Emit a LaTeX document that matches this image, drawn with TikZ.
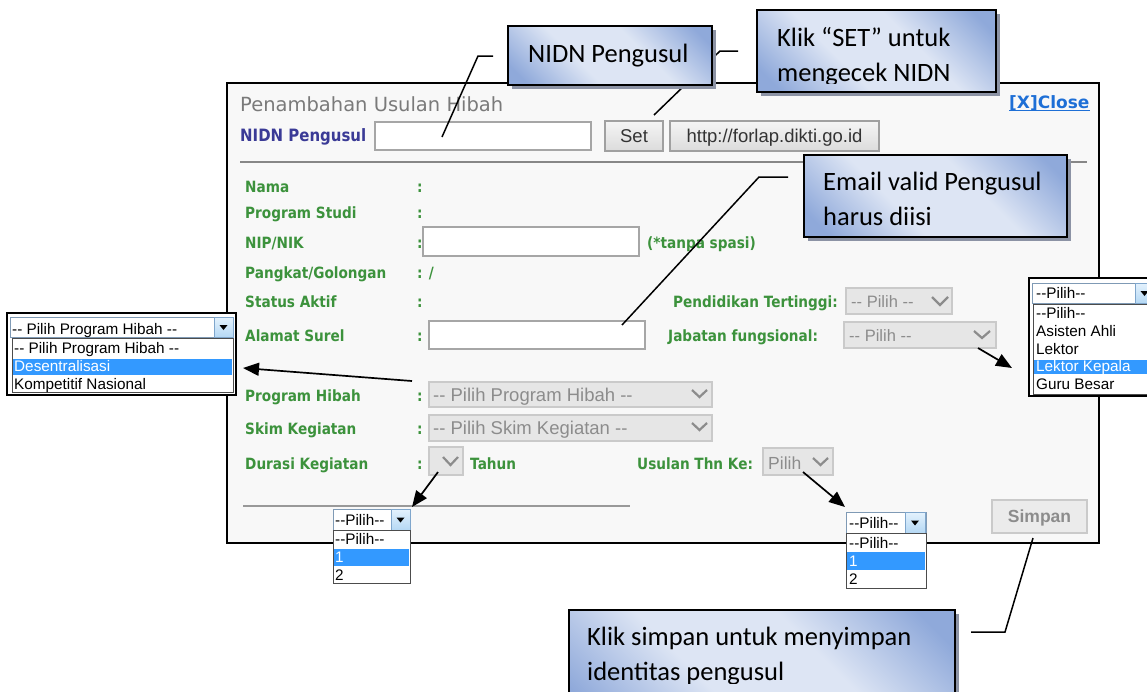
\documentclass[tikz,border=0pt]{standalone}
\usepackage{fontspec}
\setmainfont{DejaVu Sans}
\newfontfamily\lblf[FakeStretch=0.88]{DejaVu Sans}
\newfontfamily\arialf{Liberation Sans}
\newfontfamily\callf{Carlito}
\usetikzlibrary{arrows.meta,calc}
\definecolor{panelbg}{HTML}{F8F8F8}
\definecolor{lblgreen}{HTML}{3C923C}
\definecolor{lblblue}{HTML}{3A3A96}
\definecolor{titlegray}{HTML}{7A7A7A}
\definecolor{linkblue}{HTML}{1E6FD6}
\definecolor{inborder}{HTML}{A6A6A6}
\definecolor{selfill}{HTML}{E6E6E6}
\definecolor{selborder}{HTML}{CACACA}
\definecolor{seltext}{HTML}{8C8C8C}
\definecolor{calldark}{HTML}{8FA9DA}
\definecolor{calllight}{HTML}{DDE5F4}
\definecolor{shadowc}{HTML}{8C93A5}
\definecolor{hilite}{HTML}{3399FF}
\definecolor{btnborder}{HTML}{A0A0A0}
\definecolor{arrtop}{HTML}{E4F2FD}
\definecolor{arrbot}{HTML}{B5D8F4}
\definecolor{arrborder}{HTML}{7FA6CC}
\pgfdeclarehorizontalshading{callshade}{100bp}{color(0bp)=(calldark); color(20bp)=(calldark); color(40bp)=(calllight); color(60bp)=(calllight); color(80bp)=(calldark); color(100bp)=(calldark)}
\newcommand\dd{-\kern0pt-}
\newcommand\rbox[6]{\node[#2, anchor=north west, minimum width={#5-#3}, minimum height={#6-#4}, inner sep=0pt, outer sep=0pt] (#1) at (#3,#4) {};}
\begin{document}
\begin{tikzpicture}[x=1pt,y=-1pt,
  panelst/.style={draw=black, line width=2pt, fill=panelbg},
  inbox/.style={draw=inborder, line width=1.3pt, fill=white},
  btnst/.style={draw=btnborder, line width=1.3pt, top color=white!96!black, bottom color=white!86!black},
  selst/.style={draw=selborder, line width=1.3pt, fill=selfill},
  simpanst/.style={draw=selborder, line width=1.5pt, fill=white!92!black},
  chev/.style={draw=seltext, line width=2.2pt},
  lbl/.style={font=\lblf\bfseries\fontsize{15.5}{18}\selectfont, text=lblgreen, inner sep=0pt, anchor=base west},
  seltxt/.style={font=\arialf\fontsize{18.5}{21}\selectfont, text=seltext, inner sep=0pt, anchor=base west},
  btntxt/.style={font=\arialf\fontsize{18.5}{21}\selectfont, text=black!80, inner sep=0pt, anchor=base},
  popframe/.style={draw=black, line width=2pt, fill=white},
  popsel/.style={draw=arrborder!70!gray, line width=0.8pt, fill=white},
  poplist/.style={draw=black!70, line width=1pt, fill=white},
  arrbtn/.style={draw=arrborder, line width=0.8pt, top color=arrtop, bottom color=arrbot},
  hl/.style={fill=hilite, draw=none},
  poptxt/.style={font=\arialf\fontsize{15.3}{17}\selectfont, text=black, inner sep=0pt, anchor=base west},
  callout/.style={draw=black, line width=1.8pt, shading=callshade, shading angle=45},
  callsh/.style={fill=shadowc, draw=none},
  calltxt/.style={font=\callf\fontsize{26.5}{35}\selectfont, text=black, inner sep=0pt, anchor=base west, align=left},
  conn/.style={draw=black, line width=1.5pt},
  arr/.style={draw=black, line width=1.7pt, -{Triangle[length=16pt,width=13pt]}}]
\useasboundingbox (0,0) rectangle (1147,691);
\fill[white] (0,0) rectangle (1147,691);

% main panel
\rbox{panel}{panelst}{227}{83}{1099}{543}
\node[font=\fontsize{19.5}{22}\selectfont, text=titlegray, inner sep=0pt, anchor=base west] (title) at (240,111) {Penambahan Usulan Hibah};
\node[font=\fontsize{17}{20}\selectfont\bfseries, text=linkblue, inner sep=0pt, anchor=base west] (close) at (1009,108) {[X]Close};
\draw[linkblue, line width=1.3pt] ($(close.base west)+(0,2.5)$) -- ($(close.base east)+(0,2.5)$);
\node[font=\lblf\bfseries\fontsize{17}{20}\selectfont, text=lblblue, inner sep=0pt, anchor=base west] (nidnlbl) at (240,141.7) {NIDN Pengusul};
\rbox{nidnin}{inbox}{375}{122}{591}{150}
\rbox{setbtn}{btnst}{605}{121}{663}{151}
\node[btntxt] (settxt) at (634,142) {Set};
\rbox{httpbtn}{btnst}{670}{121}{879}{151}
\node[btntxt] (httptxt) at (774.5,142) {http://forlap.dikti.go.id};
\draw[draw=black!47, line width=2pt] (240,162) -- (1087,162);

% labels
\node[lbl] (lNama) at (245,192) {Nama};
\node[lbl] (lProdi) at (245,218) {Program Studi};
\node[lbl] (lNip) at (245,248) {NIP/NIK};
\node[lbl] (lPangkat) at (245,278.3) {Pangkat/Golongan};
\node[lbl] (lStatus) at (245,307.7) {Status Aktif};
\node[lbl] (lSurel) at (245,341.7) {Alamat Surel};
\node[lbl] (lHibah) at (245,401.7) {Program Hibah};
\node[lbl] (lSkim) at (245,434.3) {Skim Kegiatan};
\node[lbl] (lDurasi) at (245,469) {Durasi Kegiatan};
\node[lbl] (c1) at (417,192) {:};
\node[lbl] (c2) at (417,218) {:};
\node[lbl] (c3) at (417,248) {:};
\node[lbl] (c4) at (417,278.3) {: /};
\node[lbl] (c5) at (417,307.7) {:};
\node[lbl] (c6) at (417,341.7) {:};
\node[lbl] (c7) at (417,401.7) {:};
\node[lbl] (c8) at (417,434.3) {:};
\node[lbl] (c9) at (417,469) {:};

\rbox{nipin}{inbox}{423}{227}{639}{256}
\node[lbl] (tanpa) at (647,248) {(*tanpa spasi)};
\rbox{surelin}{inbox}{429}{321}{645}{349}

\node[lbl] (lPend) at (673,307.3) {Pendidikan Tertinggi:};
\rbox{pendsel}{selst}{846}{288}{952}{314}
\node[seltxt, font=\arialf\fontsize{16.5}{19}\selectfont] (pendtxt) at (851,307.3) {\dd{} Pilih \dd};
\draw[chev] (932,297) -- (940,305) -- (948,297);
\node[lbl] (lJab) at (668,341.7) {Jabatan fungsional:};
\rbox{jabsel}{selst}{844}{322}{996}{348}
\node[seltxt, font=\arialf\fontsize{16.5}{19}\selectfont] (jabtxt) at (849,341.7) {\dd{} Pilih \dd};
\draw[chev] (974,331) -- (982,338) -- (990,331);

\rbox{hibsel}{selst}{429}{382}{712}{407}
\node[seltxt] (hibtxt) at (433,401.7) {\dd{} Pilih Program Hibah \dd};
\draw[chev] (692,390) -- (699.5,397) -- (707,390);
\rbox{skimsel}{selst}{429}{415}{712}{441}
\node[seltxt] (skimtxt) at (433,434.3) {\dd{} Pilih Skim Kegiatan \dd};
\draw[chev] (692,423) -- (699.5,430) -- (707,423);
\rbox{dursel}{selst}{429}{447}{463}{475}
\draw[chev] (443,457) -- (450.5,465) -- (458,457);
\node[lbl] (tahun) at (470,469) {Tahun};
\node[lbl] (lUsul) at (637,469) {Usulan Thn Ke:};
\rbox{ussel}{selst}{763}{448}{833}{475}
\node[seltxt, font=\arialf\fontsize{17.5}{20}\selectfont] (ustxt) at (768,469) {Pilih};
\draw[chev] (813,458) -- (820.5,465) -- (828,458);

\draw[draw=black!40, line width=1.5pt] (243,506) -- (630,506);
\rbox{simpan}{simpanst}{992}{500}{1087}{533}
\node[font=\arialf\bfseries\fontsize{17.5}{20}\selectfont, text=seltext, inner sep=0pt, anchor=base] (simpantxt) at (1039.5,522) {Simpan};

% left popup
\rbox{lpFrame}{popframe}{7}{313}{236}{395}
\rbox{lpSel}{popsel}{10}{317}{214}{337}
\rbox{lpBtn}{arrbtn}{214}{317}{233}{337}
\fill (219.5,325) -- (227.5,325) -- (223.5,330) -- cycle;
\rbox{lpList}{poplist}{12}{338}{233}{392}
\rbox{lpHi}{hl}{13}{359}{232}{375}
\node[poptxt] (lp0) at (12,334) {\dd{} Pilih Program Hibah \dd};
\node[poptxt] (lp1) at (14,353) {\dd{} Pilih Program Hibah \dd};
\node[poptxt, text=white] (lp2) at (14,371) {Desentralisasi};
\node[poptxt] (lp3) at (14,389) {Kompetitif Nasional};

% right popup
\rbox{rpFrame}{popframe}{1029}{278}{1165}{396}
\rbox{rpSel}{popsel}{1032}{283}{1135}{303}
\rbox{rpBtn}{arrbtn}{1135}{283}{1155}{303}
\fill (1140.5,291) -- (1148.5,291) -- (1144.5,296) -- cycle;
\rbox{rpList}{poplist}{1033}{304}{1165}{394}
\rbox{rpHi}{hl}{1034}{360}{1165}{374}
\node[poptxt] (rp0) at (1036,298) {\dd Pilih\dd};
\node[poptxt] (rp1) at (1036,318) {\dd Pilih\dd};
\node[poptxt] (rp2) at (1036,336) {Asisten Ahli};
\node[poptxt] (rp3) at (1036,354) {Lektor};
\node[poptxt, text=white] (rp4) at (1036,371.5) {Lektor Kepala};
\node[poptxt] (rp5) at (1036,389) {Guru Besar};

% durasi popup
\rbox{dpSel}{popsel}{333}{509}{410}{530}
\rbox{dpBtn}{arrbtn}{391}{509}{410}{530}
\fill (396.5,517.5) -- (404.5,517.5) -- (400.5,522.5) -- cycle;
\rbox{dpList}{poplist}{333}{530}{410}{583}
\rbox{dpHi}{hl}{334}{549}{409}{566}
\node[poptxt] (dp0) at (335,525) {\dd Pilih\dd};
\node[poptxt] (dp1) at (335,544) {\dd Pilih\dd};
\node[poptxt, text=white] (dp2) at (335,562) {1};
\node[poptxt] (dp3) at (335,580) {2};

% usulan popup
\rbox{upSel}{popsel}{846}{512}{926}{533}
\rbox{upBtn}{arrbtn}{905}{512}{925}{533}
\fill (911,520.5) -- (919,520.5) -- (915,525.5) -- cycle;
\rbox{upList}{poplist}{846}{533}{926}{588}
\rbox{upHi}{hl}{847}{552}{925}{570}
\node[poptxt] (up0) at (849,528) {\dd Pilih\dd};
\node[poptxt] (up1) at (849,548) {\dd Pilih\dd};
\node[poptxt, text=white] (up2) at (849,566) {1};
\node[poptxt] (up3) at (849,584) {2};

% arrows
\coordinate (aH1) at (412,381); \coordinate (aH2) at (243,368);
\draw[arr] (aH1) -- (aH2);
\coordinate (aJ1) at (978,348); \coordinate (aJ2) at (1012,368);
\draw[arr] (aJ1) -- (aJ2);
\coordinate (aD1) at (438,472); \coordinate (aD2) at (412,507);
\draw[arr] (aD1) -- (aD2);
\coordinate (aU1) at (803,472); \coordinate (aU2) at (845,507);
\draw[arr] (aU1) -- (aU2);

% callout connectors
\coordinate (kA1) at (493,56); \coordinate (kA2) at (478,56); \coordinate (kA3) at (442,137);
\draw[conn] (kA1) -- (kA2) -- (kA3);
\coordinate (kB1) at (738,51); \coordinate (kB2) at (720,51); \coordinate (kB3) at (654,115);
\draw[conn] (kB1) -- (kB2) -- (kB3);
\coordinate (kC1) at (788,177); \coordinate (kC2) at (759,177); \coordinate (kC3) at (622,325);
\draw[conn] (kC1) -- (kC2) -- (kC3);
\coordinate (kD1) at (1033,538); \coordinate (kD2) at (1005,632); \coordinate (kD3) at (971,632);
\draw[conn] (kD1) -- (kD2) -- (kD3);

% callouts
\rbox{shA}{callsh}{512}{30}{716}{89}
\rbox{cA}{callout}{508}{26}{712}{85}
\node[calltxt] (tA) at (528,62) {NIDN Pengusul};

\rbox{shB}{callsh}{761}{14}{1000}{96}
\rbox{cB}{callout}{757}{10}{996}{92}
\begin{scope}
\clip (757,10) rectangle (996,83.5);
\node[calltxt] (tB) at (777,81) {Klik “SET” untuk\\mengecek NIDN};
\end{scope}

\rbox{shC}{callsh}{808}{159}{1071}{241}
\rbox{cC}{callout}{804}{155}{1067}{237}
\node[calltxt] (tC) at (823,225) {Email valid Pengusul\\harus diisi};

\rbox{shD}{callsh}{573}{614}{959}{730}
\rbox{cD}{callout}{569}{610}{955}{726}
\begin{scope}
\clip (569,610) rectangle (955,683.5);
\node[calltxt] (tD) at (587,680) {Klik simpan untuk menyimpan\\identitas pengusul};
\end{scope}
\end{tikzpicture}
\end{document}
